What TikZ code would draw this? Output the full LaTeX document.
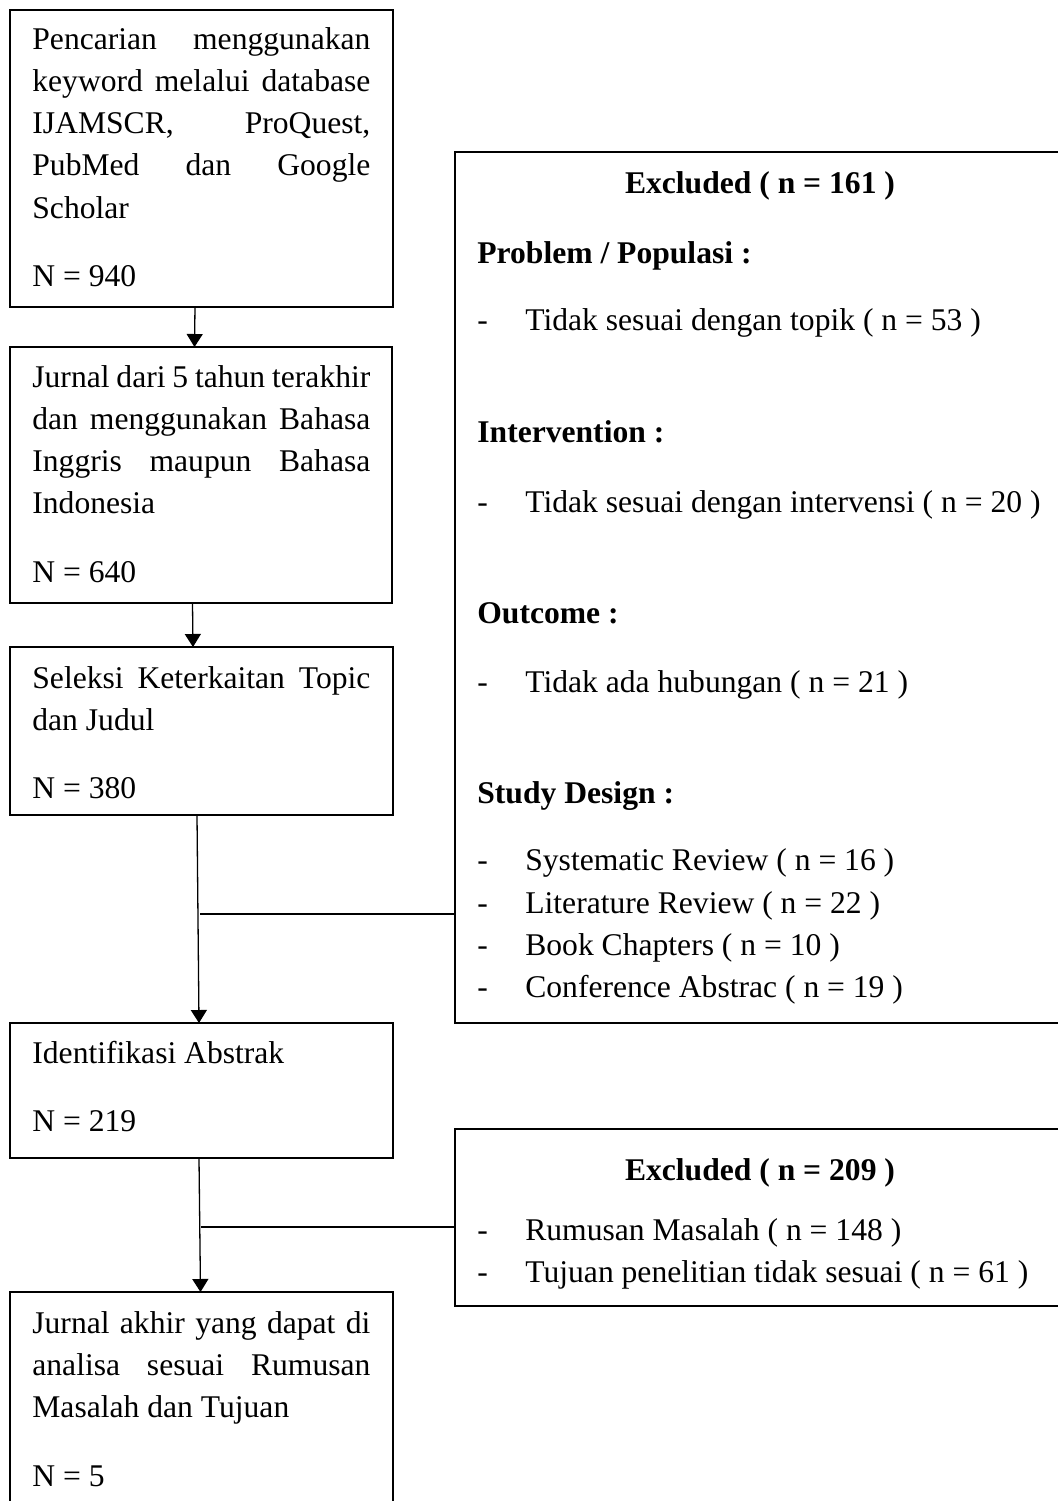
\documentclass[tikz,border=0pt]{standalone}
\usepackage{fontspec}
\setmainfont[Ligatures=NoCommon]{Liberation Serif}
\usetikzlibrary{arrows.meta,fit}
\tikzset{
  box/.style={draw, line width=1.3pt, inner sep=0pt, outer sep=0pt, rectangle},
  txt/.style={anchor=base west, inner sep=0pt, font=\fontsize{15.8pt}{21.15pt}\selectfont},
  hdr/.style={anchor=base west, inner sep=0pt, font=\fontsize{15.8pt}{21.15pt}\selectfont\bfseries},
  ttl/.style={anchor=base, inner sep=0pt, font=\fontsize{15.8pt}{21.15pt}\selectfont\bfseries},
  conn/.style={line width=0.65pt},
  arr/.style={conn, -{Triangle[length=6.5pt,width=8pt]}},
}
\newcommand{\lbx}[1]{\parbox[t]{169pt}{\fontsize{15.8pt}{21.15pt}\selectfont\tolerance=10000\hyphenpenalty=10000\relax #1}}
\newcommand{\nline}{\par\vspace{13.1pt}}
\newcommand{\itm}[1]{\hbox to 24pt{-\hfil}#1}
\begin{document}
\begin{tikzpicture}[x=0.5pt,y=-0.5pt]
\useasboundingbox (0,0) rectangle (1057,1501);
% left boxes
\node[box, fit={(10,10) (393,307)}] (b1) {};
\node[box, fit={(10,347) (392,603)}] (b2) {};
\node[box, fit={(10,647) (393,815)}] (b3) {};
\node[box, fit={(10,1023) (393,1158)}] (b4) {};
\node[box, fit={(10,1292) (393,1530)}] (b5) {};
% right boxes
\node[box, fit={(455,152) (1075,1023)}] (ex1) {};
\node[box, fit={(455,1129) (1075,1306)}] (ex2) {};
% left texts
\node[txt] (t1) at (32,49) {\lbx{Pencarian menggunakan\linebreak keyword melalui database\linebreak IJAMSCR, ProQuest,\linebreak PubMed dan Google\linebreak Scholar\nline N = 940}};
\node[txt] (t2) at (32,387) {\lbx{Jurnal dari 5 tahun terakhir\linebreak dan menggunakan Bahasa\linebreak Inggris maupun Bahasa\linebreak Indonesia\nline N = 640}};
\node[txt] (t3) at (32,688) {\lbx{Seleksi Keterkaitan Topic\linebreak dan Judul\nline N = 380}};
\node[txt] (t4) at (32,1063) {\lbx{Identifikasi Abstrak\nline N = 219}};
\node[txt] (t5) at (32,1333) {\lbx{Jurnal akhir yang dapat di\linebreak analisa sesuai Rumusan\linebreak Masalah dan Tujuan\nline N = 5}};
% right texts
\node[ttl] (x1t) at (760,193) {Excluded ( n = 161 )};
\node[hdr] (x1a) at (477,263) {Problem / Populasi :};
\node[txt] (x1b) at (477,330) {\itm{Tidak sesuai dengan topik ( n = 53 )}};
\node[hdr] (x1c) at (477,442) {Intervention :};
\node[txt] (x1d) at (477,512) {\itm{Tidak sesuai dengan intervensi ( n = 20 )}};
\node[hdr] (x1e) at (477,623) {Outcome :};
\node[txt] (x1f) at (477,692) {\itm{Tidak ada hubungan ( n = 21 )}};
\node[hdr] (x1g) at (477,803) {Study Design :};
\node[txt] (x1h) at (477,870) {\itm{Systematic Review ( n = 16 )}};
\node[txt] (x1i) at (477,913) {\itm{Literature Review ( n = 22 )}};
\node[txt] (x1j) at (477,955) {\itm{Book Chapters ( n = 10 )}};
\node[txt] (x1k) at (477,997) {\itm{Conference Abstrac ( n = 19 )}};
\node[ttl] (x2t) at (760,1180) {Excluded ( n = 209 )};
\node[txt] (x2a) at (477,1240) {\itm{Rumusan Masalah ( n = 148 )}};
\node[txt] (x2b) at (477,1282) {\itm{Tujuan penelitian tidak sesuai ( n = 61 )}};
% connectors
\draw[arr] ([xshift=-3.25pt]b1.south) -- ([xshift=-3.25pt]b2.north);
\draw[arr] ([xshift=-4.25pt]b2.south) -- ([xshift=-4.25pt]b3.north);
\draw[arr] ([xshift=-2.25pt]b3.south) -- ([xshift=-1.25pt]b4.north);
\draw[arr] ([xshift=-1.25pt]b4.south) -- ([xshift=-0.5pt]b5.north);
\coordinate (j1) at (200,914);
\coordinate (j2) at (201,1227);
\draw[conn] (j1) -- (j1 -| ex1.west);
\draw[conn] (j2) -- (j2 -| ex2.west);
\end{tikzpicture}
\end{document}
